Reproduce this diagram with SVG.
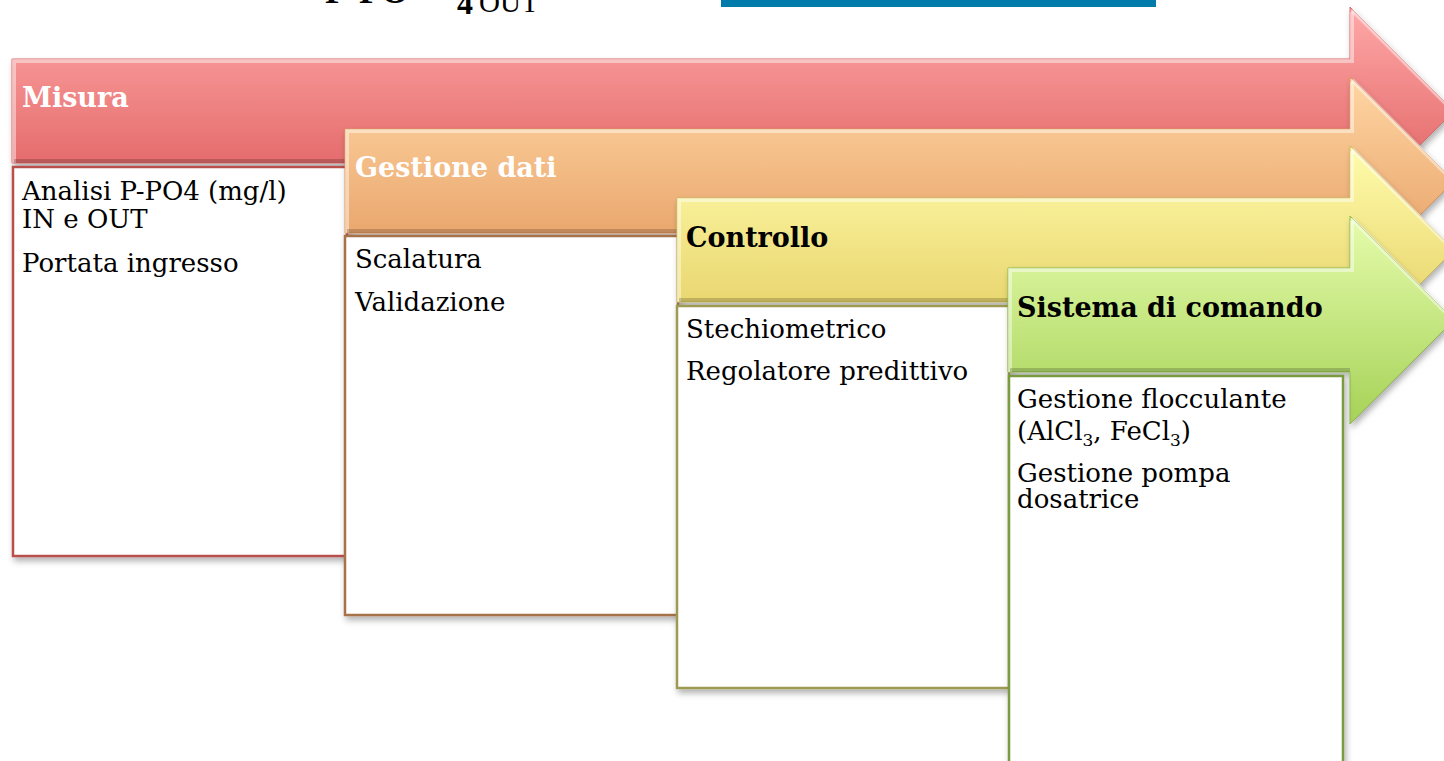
<svg xmlns="http://www.w3.org/2000/svg" width="1444" height="761" viewBox="0 0 1444 761">
<style>
.title{font-family:"DejaVu Serif","Liberation Serif",serif;font-weight:bold;font-size:27px}
.body{font-family:"DejaVu Serif","Liberation Serif",serif;font-size:26px;fill:#000}
.box{fill:#fff;stroke-width:2.5}
.hl{fill:none;stroke:#fff;stroke-opacity:.45;stroke-width:4}
.dk{fill:none;stroke:#000;stroke-opacity:.18;stroke-width:4}
</style>
<defs>
<linearGradient id="gR" gradientUnits="userSpaceOnUse" x1="0" y1="7" x2="0" y2="215"><stop offset="0" stop-color="#ffa8a8"/><stop offset="1" stop-color="#dc5858"/></linearGradient>
<linearGradient id="gO" gradientUnits="userSpaceOnUse" x1="0" y1="77" x2="0" y2="285"><stop offset="0" stop-color="#ffd6a4"/><stop offset="1" stop-color="#e3985c"/></linearGradient>
<linearGradient id="gY" gradientUnits="userSpaceOnUse" x1="0" y1="146" x2="0" y2="354"><stop offset="0" stop-color="#fffcac"/><stop offset="1" stop-color="#e2ca5c"/></linearGradient>
<linearGradient id="gG" gradientUnits="userSpaceOnUse" x1="0" y1="216" x2="0" y2="424"><stop offset="0" stop-color="#e6fcac"/><stop offset="1" stop-color="#a6d258"/></linearGradient>
<filter id="sh" x="-10%" y="-10%" width="130%" height="130%"><feDropShadow dx="2" dy="4" stdDeviation="3" flood-color="#000" flood-opacity=".3"/></filter>
</defs>

<rect x="721" y="0" width="435" height="7" fill="#007baa"/>
<text font-family="'Liberation Serif',serif" font-weight="bold" font-size="36"><tspan x="325" y="3">P-PO</tspan><tspan x="457" y="14" font-size="32">4</tspan><tspan x="479" y="12" font-size="29" font-weight="normal">OUT</tspan></text>

<g id="misura">
<path d="M12,59 H1350 V7 L1454,111 L1350,215 V163 H12 Z" fill="url(#gR)" stroke="#d86a6a" stroke-width="1" filter="url(#sh)"/>
<path class="hl" d="M14,163 V61 H1352 V12"/>
<path class="hl" d="M1352,10 L1452,110"/>
<path class="dk" d="M14,161 H1350"/>
<text class="title" x="22" y="107" fill="#fff">Misura</text>
</g>
<g id="misura-box">
<rect class="box" x="13" y="167" width="334" height="389" stroke="#b8504c" filter="url(#sh)"/>
<text class="body"><tspan x="22" y="200">Analisi P-PO4 (mg/l)</tspan><tspan x="22" y="228">IN e OUT</tspan><tspan x="22" y="272">Portata ingresso</tspan></text>
</g>

<g id="gestione-dati">
<path d="M345,129 H1350 V77 L1454,181 L1350,285 V233 H345 Z" fill="url(#gO)" stroke="#d8925a" stroke-width="1" filter="url(#sh)"/>
<path class="hl" d="M347,233 V131 H1352 V82"/>
<path class="hl" d="M1352,80 L1452,180"/>
<path class="dk" d="M347,231 H1350"/>
<text class="title" x="355" y="177" fill="#fff">Gestione dati</text>
</g>
<g id="gestione-dati-box">
<rect class="box" x="345" y="236" width="333" height="379" stroke="#a87248" filter="url(#sh)"/>
<text class="body"><tspan x="355" y="268">Scalatura</tspan><tspan x="355" y="311">Validazione</tspan></text>
</g>

<g id="controllo">
<path d="M677,198 H1350 V146 L1454,250 L1350,354 V302 H677 Z" fill="url(#gY)" stroke="#cdbb5a" stroke-width="1" filter="url(#sh)"/>
<path class="hl" d="M679,302 V200 H1352 V151"/>
<path class="hl" d="M1352,149 L1452,249"/>
<path class="dk" d="M679,300 H1350"/>
<text class="title" x="686" y="247" fill="#000">Controllo</text>
</g>
<g id="controllo-box">
<rect class="box" x="677" y="306" width="332" height="382" stroke="#9c9a52" filter="url(#sh)"/>
<text class="body"><tspan x="686" y="338">Stechiometrico</tspan><tspan x="686" y="380">Regolatore predittivo</tspan></text>
</g>

<g id="sistema-comando">
<path d="M1008,268 H1350 V216 L1454,320 L1350,424 V372 H1008 Z" fill="url(#gG)" stroke="#8fb94c" stroke-width="1" filter="url(#sh)"/>
<path class="hl" d="M1010,372 V270 H1352 V221"/>
<path class="hl" d="M1352,219 L1452,319"/>
<path class="dk" d="M1010,370 H1350"/>
<text class="title" x="1017" y="317" fill="#000">Sistema di comando</text>
</g>
<g id="sistema-comando-box">
<rect class="box" x="1009" y="376" width="334" height="400" stroke="#7a9a40" filter="url(#sh)"/>
<text class="body"><tspan x="1017" y="408">Gestione flocculante</tspan><tspan x="1017" y="440">(AlCl</tspan><tspan font-size="17" dy="6">3</tspan><tspan dy="-6">, FeCl</tspan><tspan font-size="17" dy="6">3</tspan><tspan dy="-6">)</tspan><tspan x="1017" y="482">Gestione pompa</tspan><tspan x="1017" y="508">dosatrice</tspan></text>
</g>

<g id="connectors"></g>
</svg>
